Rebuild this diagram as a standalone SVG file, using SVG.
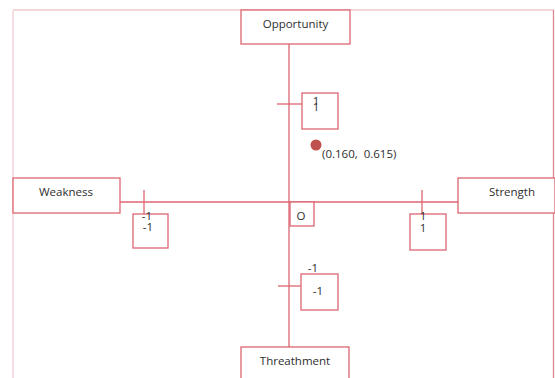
<svg xmlns="http://www.w3.org/2000/svg" width="555" height="378" viewBox="0 0 555 378">
<style>
.b{fill:#fff;stroke:#dc6670;stroke-width:1.3}
.l{stroke:#dc6670;stroke-width:1.3;fill:none}
text{font-family:"Open Sans","Liberation Sans",sans-serif;font-size:11.5px;fill:#2e2e2e}
.c{text-anchor:middle}
</style>
<rect width="555" height="378" fill="#fff"/>
<g id="frame">
<line x1="13" y1="10" x2="554" y2="10" stroke="#f2c9c9" stroke-width="1.5"/>
<line x1="13" y1="10" x2="13" y2="378" stroke="#f5d3dc" stroke-width="1.5"/>
<line x1="553.5" y1="10" x2="553.5" y2="378" stroke="#dc8890" stroke-width="1.3"/>
</g>
<g id="connectors">
<line class="l" x1="289" y1="44" x2="289" y2="347"/>
<line class="l" x1="120" y1="202" x2="458" y2="202"/>
<line class="l" x1="144" y1="190" x2="144" y2="214"/>
<line class="l" x1="422" y1="190" x2="422" y2="214"/>
<line class="l" x1="277" y1="104" x2="302" y2="104"/>
<line class="l" x1="278" y1="286" x2="301" y2="286"/>
</g>
<g id="opportunity"><rect class="b" x="241" y="10" width="109" height="34"/><text class="c" x="295.5" y="28">Opportunity</text></g>
<g id="weakness"><rect class="b" x="13" y="178" width="107" height="35"/><text class="c" x="66" y="196">Weakness</text></g>
<g id="strength"><rect class="b" x="458" y="178" width="97" height="35"/><text class="c" x="512" y="196">Strength</text></g>
<g id="threathment"><rect class="b" x="241" y="347" width="108" height="35"/><text class="c" x="295" y="365">Threathment</text></g>
<g id="origin"><rect class="b" x="290" y="202" width="24" height="24"/><text class="c" x="301" y="220">O</text></g>
<g id="top-tick"><rect class="b" x="302" y="93" width="36" height="36"/><text class="c" x="316" y="105">1</text><text class="c" x="316" y="111">1</text></g>
<g id="left-tick"><rect class="b" x="133" y="214" width="35" height="34"/><text class="c" x="147" y="220">-1</text><text class="c" x="148" y="231">-1</text></g>
<g id="right-tick"><rect class="b" x="410" y="214" width="36" height="36"/><text class="c" x="423" y="220">1</text><text class="c" x="423" y="232">1</text></g>
<g id="bottom-tick"><rect class="b" x="301" y="274" width="37" height="36"/><text class="c" x="313" y="272">-1</text><text class="c" x="318" y="295">-1</text></g>
<g id="point"><circle cx="316" cy="145" r="5.5" fill="#c0504d"/><text x="322" y="158" font-size="12">(0.160,&#160; 0.615)</text></g>
</svg>
